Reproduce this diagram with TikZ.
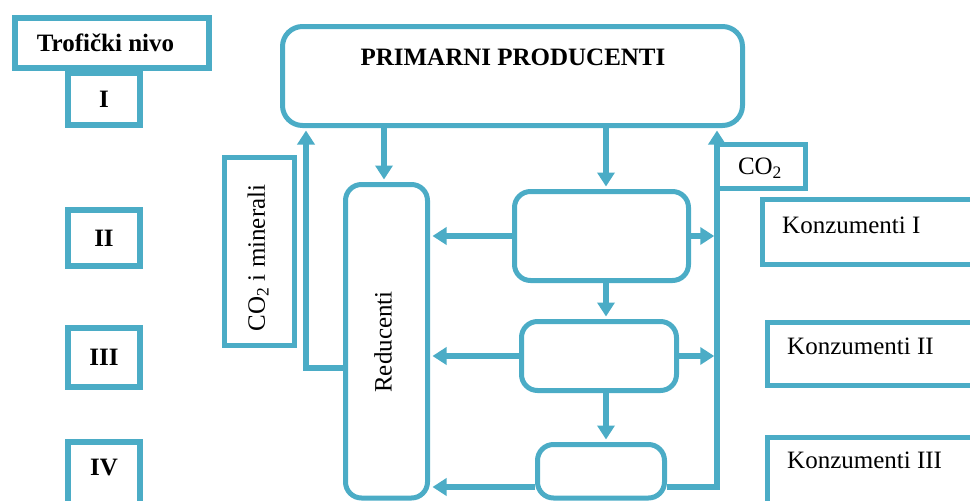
\documentclass[tikz,border=0pt]{standalone}
\usepackage{fontspec}
\setmainfont{Liberation Serif}
\usetikzlibrary{arrows.meta,calc}
\definecolor{aqua}{HTML}{4BACC6}
\begin{document}
\begin{tikzpicture}[x=1pt,y=1pt,
  lvl/.style={draw=aqua, line width=6pt, fill=white, inner sep=0pt, font=\fontsize{25}{29}\selectfont\bfseries},
  sbox/.style={draw=aqua, line width=5pt, inner sep=0pt, font=\fontsize{25}{29}\selectfont},
  rbox/.style={sbox, rounded corners=16pt},
  txt/.style={inner sep=0pt, font=\fontsize{25}{29}\selectfont},
  btxt/.style={txt, font=\fontsize{25}{29}\selectfont\bfseries},
  conn/.style={draw=aqua, line width=5.5pt},
  arr/.style={conn, -{Triangle[length=14pt,width=17pt]}},
]
\useasboundingbox (0,0) rectangle (970,-501);
\clip (0,0) rectangle (970,-501);

% trophic levels
\node[lvl, minimum width=194pt, minimum height=50pt] (trof) at (111.5,-42.5) {\hspace*{-12pt}Trofički nivo};
\node[lvl, minimum width=72pt, minimum height=52pt] (l1) at (104,-99) {I};
\node[lvl, minimum width=72pt, minimum height=56pt] (l2) at (104,-238) {II};
\node[lvl, minimum width=72pt, minimum height=59pt] (l3) at (104,-357.5) {III};
\node[lvl, minimum width=72pt, minimum height=88pt] (l4) at (104,-486) {};
\node[btxt] (l4t) at (104,-467.5) {IV};

% producers
\node[rbox, rounded corners=20pt, minimum width=460pt, minimum height=99pt] (primary) at (512.5,-76) {};
\node[btxt] (ptitle) at (513,-57) {PRIMARNI PRODUCENTI};

% decomposers
\node[rbox, minimum width=82pt, minimum height=313.5pt] (red) at (386.5,-341.25) {};
\node[txt, rotate=90] (redt) at (383,-342) {Reducenti};
\node[sbox, minimum width=70pt, minimum height=188pt] (co2m) at (259.5,-251.5) {};
\node[txt, rotate=90] (co2mt) at (258,-258) {CO\textsubscript{2} i minerali};

% consumer blocks
\node[rbox, minimum width=174pt, minimum height=89pt] (b1) at (601.5,-236) {};
\node[rbox, minimum width=155pt, minimum height=69pt] (b2) at (599,-356) {};
\node[rbox, minimum width=127pt, minimum height=53.5pt] (b3) at (601,-471.25) {};

% right side boxes
\node[sbox, minimum width=88.5pt, minimum height=44pt] (co2) at (761.25,-166.5) {};
\node[txt] (co2t) at (760,-168) {CO\textsubscript{2}};
\node[sbox, minimum width=237.5pt, minimum height=65pt] (k1) at (881.25,-232) {};
\node[txt, anchor=base west] (k1t) at (782,-233) {Konzumenti I};
\node[sbox, minimum width=232.5pt, minimum height=63pt] (k2) at (883.75,-354) {};
\node[txt, anchor=base west] (k2t) at (787,-354) {Konzumenti II};
\node[sbox, minimum width=232.5pt, minimum height=102.5pt] (k3) at (883.75,-488.75) {};
\node[txt, anchor=base west] (k3t) at (787,-468) {Konzumenti III};

% helper coordinates
\coordinate (vx) at (717,0);
\coordinate (lx) at (306,0);
\coordinate (cx) at (606,0);
\coordinate (rx) at (384,0);
\coordinate (ry1) at (0,-368);
\coordinate (ry3) at (0,-487);

% connectors
\draw[arr] (rx |- primary.south) -- ($(rx |- red.north)+(0,2.5)$);
\draw[arr] (cx |- primary.south) -- ($(cx |- b1.north)+(0,2.5)$);
\draw[arr] (cx |- b1.south) -- ($(cx |- b2.north)+(0,2.5)$);
\draw[arr] (cx |- b2.south) -- ($(cx |- b3.north)+(0,2.5)$);
\draw[arr] (b1.west) -- ($(red.east |- b1.west)+(2.5,0)$);
\draw[arr] (b2.west) -- ($(red.east |- b2.west)+(2.5,0)$);
\draw[arr] (b3.west |- ry3) -- ($(red.east |- ry3)+(2.5,0)$);
\draw[arr] (b1.east) -- ($(vx |- b1.east)+(-2.75,0)$);
\draw[arr] (b2.east) -- ($(vx |- b2.east)+(-2.75,0)$);
\draw[arr] (b3.east |- ry3) -- (vx |- ry3) -- ($(vx |- primary.south)+(0,-2.5)$);
\draw[arr] (red.west |- ry1) -- (lx |- ry1) -- ($(lx |- primary.south)+(0,-2.5)$);
\end{tikzpicture}
\end{document}
